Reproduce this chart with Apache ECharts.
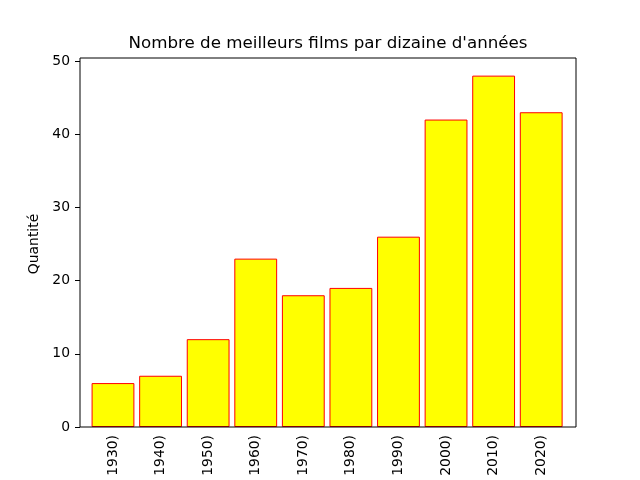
<!DOCTYPE html>
<html>
<head>
<meta charset="utf-8">
<script src="https://cdn.jsdelivr.net/npm/echarts@6/dist/echarts.min.js"></script>
<style>
    html, body {margin: 0; padding: 0; background: #fff;}
    #chart {width: 640px; height: 480px;}
</style>
</head>
<body>
<div id="chart"></div>
<script>
//données
var decades = ['1930)', '1940)', '1950)', '1960)', '1970)', '1980)', '1990)', '2000)', '2010)', '2020)']
var counts = [6, 7, 12, 23, 18, 19, 26, 42, 48, 43]
var yTicks = [0, 10, 20, 30, 40, 50]

var font = 'DejaVu Sans'

echarts.init(document.querySelector("#chart")).setOption({
    backgroundColor: '#fff',
    animation: false,
    title: {
        text: "Nombre de meilleurs films par dizaine d'années",
        left: 323,
        textAlign: 'center',
        top: 30,
        textStyle: {
            fontFamily: font,
            fontSize: 16.7,
            fontWeight: 'normal',
            color: '#000'
        }
    },
    //zone des barres un peu plus étroite que le cadre (marges matplotlib)
    grid: {left: 89.2, right: 75, top: 61, bottom: 53},
    xAxis: {
        type: 'category',
        data: decades,
        axisLine: {show: false},
        axisTick: {alignWithLabel: true, length: 5, lineStyle: {color: '#000'}},
        axisLabel: {
            rotate: 90,
            margin: 8,
            fontFamily: font,
            fontSize: 13.9,
            color: '#000'
        }
    },
    yAxis: {
        type: 'value',
        min: yTicks[0],
        max: yTicks[yTicks.length - 1],
        interval: 10,
        offset: 9.2,
        name: 'Quantité',
        nameLocation: 'middle',
        nameGap: 34,
        nameTextStyle: {fontFamily: font, fontSize: 13.9, color: '#000'},
        splitLine: {show: false},
        axisLine: {show: false},
        axisTick: {show: true, length: 5, lineStyle: {color: '#000'}},
        axisLabel: {margin: 10, fontFamily: font, fontSize: 13.9, color: '#000'}
    },
    series: [{
        type: 'bar',
        data: counts,
        barWidth: '90%',
        itemStyle: {color: '#ffff00', borderColor: '#ff0000', borderWidth: 1}
    }],
    //cadre des axes
    graphic: [{
        type: 'rect',
        z: 100,
        shape: {x: 80, y: 58, width: 496, height: 369},
        style: {fill: 'none', stroke: '#000', lineWidth: 1}
    }]
})
</script>
</body>
</html>
